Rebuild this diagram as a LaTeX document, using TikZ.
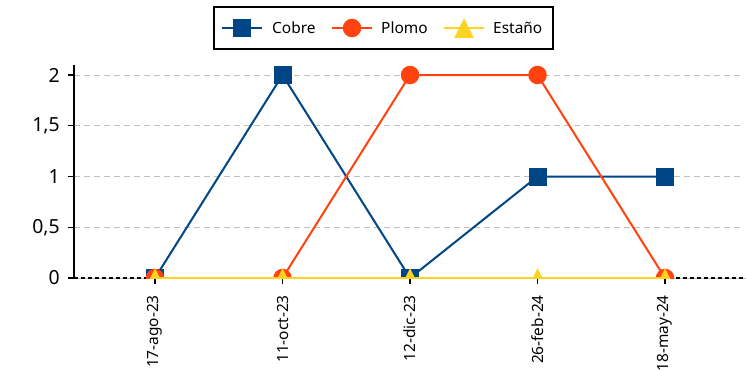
\documentclass[tikz,border=0pt]{standalone}
\usepackage{fontspec}
\setmainfont{Noto Sans}
\usetikzlibrary{shapes.geometric}
\definecolor{cobre}{HTML}{004586}
\definecolor{plomo}{HTML}{FF420E}
\definecolor{estano}{HTML}{FFD320}
\definecolor{gridgray}{HTML}{C0C0C0}
\begin{document}
\begin{tikzpicture}[x=1bp,y=1bp,
  sq/.style={rectangle, fill=cobre, minimum size=18bp, inner sep=0pt},
  circ/.style={circle, fill=plomo, minimum size=18.5bp, inner sep=0pt},
  tri/.style={rectangle, minimum size=19.5bp, inner sep=0pt,
    path picture={\fill[estano] (path picture bounding box.south west) -- (path picture bounding box.south east) -- (path picture bounding box.north) -- cycle;}},
  gridline/.style={gridgray, line width=1bp, dash pattern=on 6bp off 4bp},
  axisline/.style={black, line width=1.2bp},
  serie/.style={line width=2bp},
  ylab/.style={anchor=east, inner sep=0pt, font=\fontsize{19.5}{22}\selectfont},
  xlab/.style={anchor=east, rotate=90, inner sep=0pt, font=\fontsize{15.5}{18}\selectfont},
  leglab/.style={anchor=west, inner sep=0pt, font=\fontsize{15.5}{18}\selectfont}
]
\useasboundingbox (0,0) rectangle (746,370);
\fill[white] (0,0) rectangle (746,370);

% grid
\foreach \v/\n in {0.5/a,1/b,1.5/c,2/d}{
  \coordinate (gl\n) at (74,{92+101.5*\v});
  \coordinate (gr\n) at (742,{92+101.5*\v});
  \draw[gridline] (gl\n) -- (gr\n);
}
% axes
\coordinate (yb) at (74,92);
\coordinate (yt) at (74,305);
\coordinate (xr) at (746,92);
\draw[gridgray, line width=1bp] (yb) -- (xr);
\draw[black, line width=1.2bp, dash pattern=on 4bp off 3bp] (yb) -- (xr);
\draw[axisline] (yt) -- (yb);

% y ticks and labels
\foreach \v/\t/\n in {0/0/a,0.5/{0,5}/b,1/1/c,1.5/{1,5}/d,2/2/e}{
  \coordinate (yt\n) at (68,{92+101.5*\v});
  \coordinate (ya\n) at (74,{92+101.5*\v});
  \draw[axisline] (yt\n) -- (ya\n);
  \node[ylab] (yl\n) at (60,{92+101.5*\v}) {\t};
}
% x ticks and labels
\foreach \x/\t/\n in {155/17-ago-23/1,282.5/11-oct-23/2,410/12-dic-23/3,537.5/26-feb-24/4,665/18-may-24/5}{
  \coordinate (xt\n) at (\x,92);
  \coordinate (xb\n) at (\x,86);
  \draw[axisline] (xt\n) -- (xb\n);
  \node[xlab] (xl\n) at (\x,75) {\t};
}

% data coordinates
\coordinate (c1) at (155,92);   \coordinate (c2) at (282.5,295);
\coordinate (c3) at (410,92);   \coordinate (c4) at (537.5,193.5);
\coordinate (c5) at (665,193.5);
\coordinate (p1) at (155,92);   \coordinate (p2) at (282.5,92);
\coordinate (p3) at (410,295);  \coordinate (p4) at (537.5,295);
\coordinate (p5) at (665,92);
\coordinate (e1) at (155,92);   \coordinate (e2) at (282.5,92);
\coordinate (e3) at (410,92);   \coordinate (e4) at (537.5,92);
\coordinate (e5) at (665,92);

\begin{scope}
\clip (74,92) rectangle (746,370);
\draw[serie, cobre] (c1) -- (c2) -- (c3) -- (c4) -- (c5);
\foreach \i in {1,...,5}{ \node[sq] (mc\i) at (c\i) {}; }
\draw[serie, plomo] (p1) -- (p2) -- (p3) -- (p4) -- (p5);
\foreach \i in {1,...,5}{ \node[circ] (mp\i) at (p\i) {}; }
\draw[serie, estano] (e1) -- (e2) -- (e3) -- (e4) -- (e5);
\foreach \i in {1,...,5}{ \node[tri] (me\i) at (e\i) {}; }
\end{scope}

% legend
\draw[black, line width=2bp] (213.5,321.5) rectangle (552.5,362.5);
\coordinate (lc1) at (222,342); \coordinate (lc2) at (262,342);
\draw[serie, cobre] (lc1) -- (lc2);
\node[sq] (lmc) at (242,342) {};
\node[leglab] (ltc) at (272,342) {Cobre};
\coordinate (lp1) at (332,342); \coordinate (lp2) at (372,342);
\draw[serie, plomo] (lp1) -- (lp2);
\node[circ] (lmp) at (352,342) {};
\node[leglab] (ltp) at (381,342) {Plomo};
\coordinate (le1) at (444,342); \coordinate (le2) at (484,342);
\draw[serie, estano] (le1) -- (le2);
\node[tri] (lme) at (464,342) {};
\node[leglab] (lte) at (493,342) {Estaño};
\end{tikzpicture}
\end{document}
